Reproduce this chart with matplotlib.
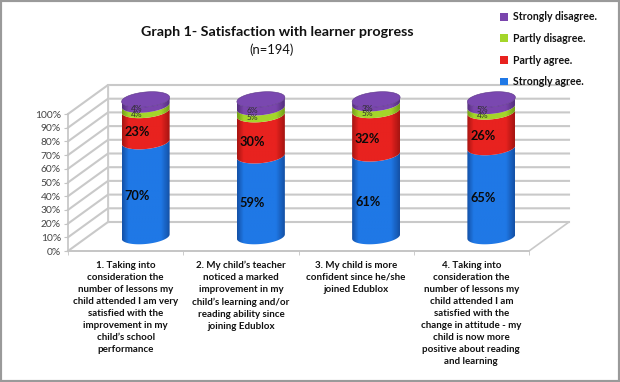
import numpy as np
import matplotlib
matplotlib.use("Agg")
import matplotlib.pyplot as plt
from matplotlib.patches import Polygon, Rectangle
from matplotlib.colors import LinearSegmentedColormap

categories = [
    "1. Taking into\nconsideration the\nnumber of lessons my\nchild attended I am very\nsatisfied with the\nimprovement in my\nchild’s school\nperformance",
    "2. My child’s teacher\nnoticed a marked\nimprovement in my\nchild’s learning and/or\nreading ability since\njoining Edublox",
    "3. My child is more\nconfident since he/she\njoined Edublox",
    "4. Taking into\nconsideration the\nnumber of lessons my\nchild attended I am\nsatisfied with the\nchange in attitude - my\nchild is now more\npositive about reading\nand learning",
]
series_names = ["Strongly agree.", "Partly agree.", "Partly disagree.", "Strongly disagree."]
strongly_agree = [70, 59, 61, 65]
partly_agree = [23, 30, 32, 26]
partly_disagree = [4, 5, 5, 4]
strongly_disagree = [4, 6, 3, 5]
yticks = list(range(0, 101, 10))

W, H = 620, 382
FONT = "Lato"
plt.rcParams["font.family"] = [FONT, "DejaVu Sans"]
colors = ["#1f78e6", "#e8221f", "#a4d62a", "#7a45ad"]
dark = ["#1452a8", "#a81512", "#74a018", "#56307f"]
TXT = "#111111"

fig = plt.figure(figsize=(W / 100, H / 100), dpi=100, facecolor="white")
fig.add_artist(Rectangle((0, 0), 1, 1, transform=fig.transFigure, fill=False,
                         ec="#9a9a9a", lw=3))
L, R, T, B = 68, 529, 114, 251
ax = fig.add_axes([L / W, 1 - B / H, (R - L) / W, (B - T) / H])
ax.set_xlim(0, 4)
ax.set_ylim(0, 100)
ax.patch.set_visible(False)
for s in ["top", "right"]:
    ax.spines[s].set_visible(False)
for s in ["left", "bottom"]:
    ax.spines[s].set_color("#c4c4c4")
    ax.spines[s].set_linewidth(1.2)
sx = (R - L) / 4
sy = (B - T) / 100
dx, dy = 40 / sx, 29 / sy

grid = "#c9c9c9"
for v in yticks:
    ax.plot([0, dx, 4 + dx], [v, v + dy, v + dy], color=grid, lw=1.5,
            clip_on=False, zorder=1, solid_joinstyle="miter")
ax.plot([dx, dx], [dy, 100 + dy], color="#dddddd", lw=1, clip_on=False, zorder=1)
ax.plot([dx, dx, 4 + dx, 4, 0], [100 + dy, dy, dy, 0, 0], color=grid, lw=1.2,
        clip_on=False, zorder=1)

ax.set_yticks(yticks)
ax.set_yticklabels([f"{v}%" for v in yticks], fontsize=7.4, color="#444444")
ax.set_xticks(np.arange(4) + 0.5)
ax.set_xticklabels(categories, fontsize=7.0, fontweight="bold", color=TXT,
                   linespacing=1.43, va="top")
ax.set_xticks(np.arange(5), minor=True)
ax.tick_params(axis="x", which="major", length=0, pad=7)
ax.tick_params(axis="x", which="minor", length=3, color="#c4c4c4", direction="out")
ax.tick_params(axis="y", length=3, color="#c4c4c4", pad=2)

rx = 24 / sx
ry = 7.5 / sy
tilt = 0.09 * sx / sy
t = np.linspace(0, 2 * np.pi, 121)
front = np.linspace(np.pi, 2 * np.pi, 61)
cmap_for = lambda i: LinearSegmentedColormap.from_list(
    "c", [dark[i], colors[i], colors[i], dark[i]], N=64)


def arc(cx, cy, th):
    x = cx + rx * np.cos(th)
    y = cy + ry * np.sin(th) + tilt * rx * np.cos(th)
    return np.column_stack([x, y])


stacks = np.array([strongly_agree, partly_agree, partly_disagree, strongly_disagree], float)
totals = stacks.sum(axis=0)
g = np.linspace(0, 1, 64)[None, :]
for j in range(4):
    cx = j + 0.5 + dx / 2
    base = dy / 2
    for i in range(4):
        h = stacks[i, j] / totals[j] * 100
        a = arc(cx, base, front)
        b = arc(cx, base + h, front)[::-1]
        poly = Polygon(np.vstack([a, b]), closed=True, transform=ax.transData, fc="none", ec="none")
        ax.add_patch(poly)
        im = ax.imshow(np.interp(g, [0, .18, .75, 1], [0, .45, .55, 1]),
                       extent=[cx - rx, cx + rx, base - ry * 2, base + h + ry * 2],
                       cmap=cmap_for(i), vmin=0, vmax=1, aspect="auto",
                       zorder=3 + i)
        im.set_clip_path(poly)
        im.set_clip_box(fig.bbox)
        base += h
    ax.add_patch(Polygon(arc(cx, dy / 2 + 100, t), closed=True, fc="#7a48b0",
                         ec="#5a3486", lw=0.4, zorder=8, clip_on=False))
    lab_x = j + 0.5 + 11.5 / sx
    base = 0
    for i in range(4):
        h = stacks[i, j] / totals[j] * 100
        big = i < 2
        ax.text(lab_x, base + h / 2 + 8 / sy, f"{stacks[i, j]:.0f}%",
                ha="center", va="center",
                fontsize=9.2 if big else 6.0,
                fontweight="bold" if big else "normal",
                color="#0a0a0a" if big else "#2c2c2c", zorder=10, clip_on=False)
        base += h
ax.set_xlim(0, 4)
ax.set_ylim(0, 100)

fig.text(277 / W, 1 - 32 / H, "Graph 1- Satisfaction with learner progress",
         ha="center", va="center", fontsize=10.3, fontweight="bold", color=TXT)
fig.text(272 / W, 1 - 50 / H, "(n=194)", ha="center", va="center",
         fontsize=9.4, color=TXT)

handles = [Rectangle((0, 0), 1, 1, fc=c) for c in colors[::-1]]
fig.legend(handles, series_names[::-1], loc="upper left",
           bbox_to_anchor=(492 / W, 1 - 3 / H), frameon=False,
           prop={"weight": "bold", "size": 7.6, "family": FONT},
           labelspacing=1.0, handlelength=0.75, handleheight=0.75, handletextpad=0.4,
           borderpad=0.3, labelcolor=TXT)
fig.savefig("out.png", dpi=100)
